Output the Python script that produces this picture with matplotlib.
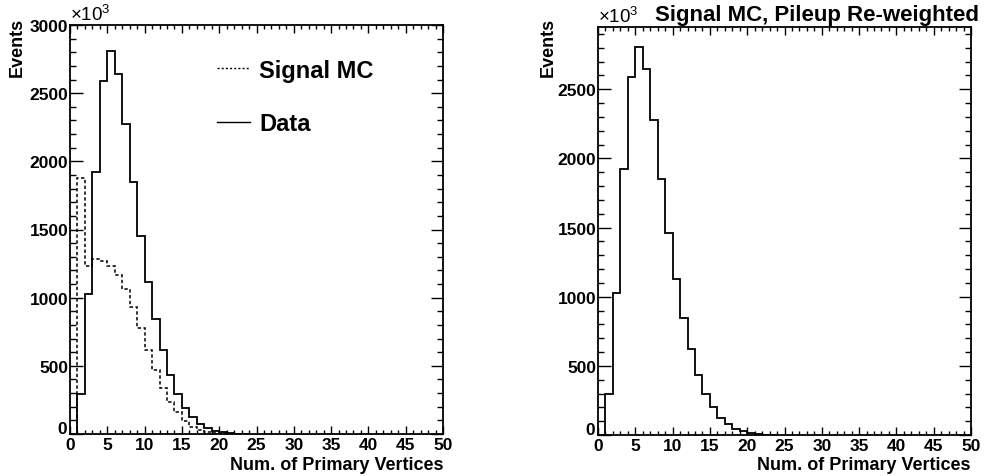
import numpy as np
import matplotlib
matplotlib.use("Agg")
import matplotlib.pyplot as plt
from matplotlib.ticker import MultipleLocator
from matplotlib.lines import Line2D
from matplotlib.transforms import ScaledTranslation

plt.rcParams['font.family'] = ['Liberation Sans', 'DejaVu Sans']
plt.rcParams['mathtext.fontset'] = 'custom'
plt.rcParams['mathtext.rm'] = 'Liberation Sans'
plt.rcParams['mathtext.bf'] = 'Liberation Sans:bold'

# ---- data (events, in units of 10^3), bins of width 1 starting at 0 ----
bin_start = 0
data_counts = [0, 296, 1025, 1925, 2590, 2808, 2640, 2273, 1847, 1455, 1116,
               843, 616, 433, 291, 191, 122, 70, 42, 23, 12, 6, 3, 1]
mc_counts = [0, 1875, 1232, 1284, 1268, 1235, 1164, 1061, 928, 775, 617,
             471, 338, 233, 159, 98, 55, 30, 15, 8, 4, 2, 1, 0]
mc_reweighted = [0, 296, 1026, 1926, 2588, 2804, 2643, 2275, 1848, 1458, 1126,
                 846, 620, 437, 300, 199, 126, 76, 45, 26, 13, 7, 3, 1]

x_label = "Num. of Primary Vertices"
y_label = "Events"
legend_labels = ["Signal MC", "Data"]
right_title = "Signal MC, Pileup Re-weighted"
xlim = (0, 50)
ylim_left = (0, 3000)
ylim_right = (0, 2950)

W, H = 986, 477
fig = plt.figure(figsize=(W / 100, H / 100), dpi=100)

def px_axes(x0, y0, x1, y1):
    return fig.add_axes([x0 / W, 1 - y1 / H, (x1 - x0) / W, (y1 - y0) / H])

axL = px_axes(70, 26, 443, 435)
axR = px_axes(598, 28, 971, 436)

def style(ax, ylim):
    ax.set_xlim(*xlim)
    ax.set_ylim(*ylim)
    for s in ax.spines.values():
        s.set_linewidth(1.3)
    ax.xaxis.set_major_locator(MultipleLocator(5))
    ax.xaxis.set_minor_locator(MultipleLocator(1))
    ax.yaxis.set_major_locator(MultipleLocator(500))
    ax.yaxis.set_minor_locator(MultipleLocator(100))
    ax.tick_params(axis='both', which='both', direction='in', top=True, right=True,
                   width=1.0, labelsize=12.5)
    ax.tick_params(axis='x', which='major', length=6, pad=2.5)
    ax.tick_params(axis='x', which='minor', length=3)
    ax.tick_params(axis='y', which='major', length=9, pad=1.2)
    ax.tick_params(axis='y', which='minor', length=4.5)
    for lab in ax.get_xticklabels() + ax.get_yticklabels():
        lab.set_fontweight('bold')

def edges_for(vals):
    return np.arange(bin_start, bin_start + len(vals) + 1)

# Left panel
axL.stairs(mc_counts, edges_for(mc_counts), color='black', lw=1.1,
           linestyle=(0, (2.2, 1.6)))
axL.stairs(data_counts, edges_for(data_counts), color='black', lw=1.3)
style(axL, ylim_left)

handles = [Line2D([], [], color='black', lw=1.0, linestyle=(0, (1.5, 1.5))),
           Line2D([], [], color='black', lw=1.0)]
axL.legend(handles, legend_labels, loc='upper left', bbox_to_anchor=(0.394, 0.918),
           frameon=False, borderpad=0, borderaxespad=0, handlelength=1.4,
           handletextpad=0.38, labelspacing=1.3,
           prop={'weight': 'bold', 'size': 17})

# Right panel
axR.stairs(mc_reweighted, edges_for(mc_reweighted), color='black', lw=1.3)
style(axR, ylim_right)

# Axis titles
for ax, ex in ((axL, 17), (axR, 548)):
    fig.text(ex / W, 1 - 18 / H, y_label, rotation=90, ha='center', va='top',
             fontsize=13, fontweight='bold')
    pos = ax.get_position()
    fig.text(pos.x1, 1 - 470 / H, x_label, ha='right', va='baseline',
             fontsize=13, fontweight='bold')
    fig.text(pos.x0, pos.y1 + 1 / H, r'$\times10^{3}$', ha='left', va='bottom',
             fontsize=13.5)

fig.text(979 / W, 1 - 21.5 / H, right_title, ha='right', va='baseline',
         fontsize=16, fontweight='bold')

# nudge the y "0" label slightly up so it does not collide with the x "0" label
fig.canvas.draw()
for ax in (axL, axR):
    locs = ax.yaxis.get_majorticklocs()
    ticks = ax.yaxis.get_major_ticks()
    for loc, tk in zip(locs, ticks):
        if loc == 0:
            lab = tk.label1
            lab.set_transform(lab.get_transform() +
                              ScaledTranslation(-1 / 72, 5 / 72, fig.dpi_scale_trans))

fig.savefig('out.png', dpi=100)
